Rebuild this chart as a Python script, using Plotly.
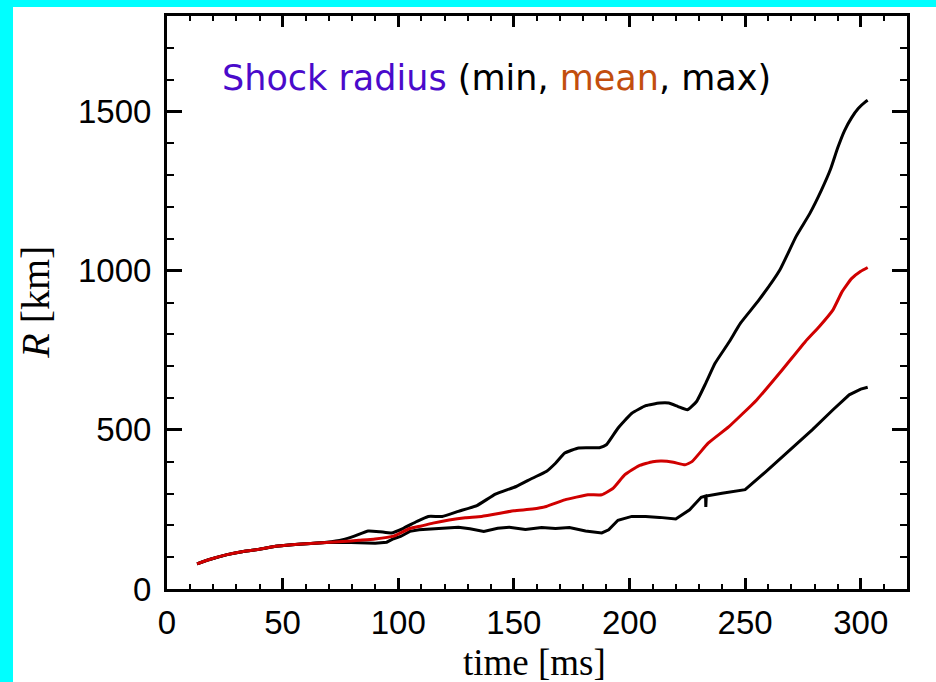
import plotly.graph_objects as go

# ---- data ----
t_max = [13, 18, 26, 33, 40, 47, 54, 62, 69, 76, 81, 87, 92, 97, 102, 108, 113, 119, 126, 134,
         142, 151, 158, 164, 168, 172, 178, 187, 190, 195, 201, 207, 213, 217, 221, 225, 229,
         233, 237, 243, 248, 256, 265, 272, 278, 283, 287, 290, 293, 296, 299, 302, 303]
r_max = [79, 92, 108, 118, 125, 134, 139, 143, 147, 155, 166, 182, 180, 176, 190, 212, 228, 228, 244, 262,
         298, 322, 348, 369, 395, 427, 443, 444, 453, 505, 552, 576, 584, 584, 573, 563, 589,
         647, 709, 775, 835, 908, 1002, 1107, 1180, 1253, 1320, 1385, 1440, 1480, 1510, 1530, 1535]

t_mean = [13, 18, 26, 33, 40, 47, 54, 62, 69, 76, 83, 90, 98, 105, 110, 115, 122, 129, 136, 144,
          150, 158, 164, 172, 182, 188, 193, 198, 204, 210, 214, 219, 224, 227, 234, 243, 255,
          266, 276, 282, 288, 292, 296, 300, 303]
r_mean = [79, 92, 108, 118, 125, 134, 139, 143, 146, 149, 153, 157, 166, 190, 198, 207, 217, 224, 228, 238,
          246, 251, 259, 280, 296, 296, 317, 359, 387, 400, 402, 398, 390, 400, 458, 510, 594,
          688, 777, 824, 877, 935, 975, 998, 1010]

t_min = [13, 18, 26, 33, 40, 47, 54, 62, 69, 76, 83, 90, 95, 98, 101, 105, 109, 119, 126, 131,
         137, 143, 148, 155, 162, 168, 174, 181, 188, 191, 195, 201, 207, 213, 220, 226, 231,
         232.9, 233.0, 233.2, 240, 250, 259, 268, 279, 288, 295, 300, 303]
r_min = [79, 92, 108, 118, 125, 134, 139, 143, 146, 147, 146, 144, 147, 158, 165, 181, 186, 192, 194, 189,
         181, 191, 194, 187, 193, 190, 193, 182, 176, 186, 216, 228, 228, 225, 220, 249, 288,
         292, 258, 292, 301, 312, 369, 427, 500, 563, 610, 628, 634]

x_ticks = [0, 50, 100, 150, 200, 250, 300]
y_ticks = [0, 500, 1000, 1500]

fig = go.Figure()
fig.add_trace(go.Scatter(x=t_min, y=r_min, mode="lines", line=dict(color="black", width=3), name="min"))
fig.add_trace(go.Scatter(x=t_max, y=r_max, mode="lines",
                         line=dict(color="black", width=3, shape="spline", smoothing=0.4), name="max"))
fig.add_trace(go.Scatter(x=t_mean, y=r_mean, mode="lines",
                         line=dict(color="#d00000", width=3, shape="spline", smoothing=0.4), name="mean"))

axis_common = dict(
    showline=True, linecolor="black", linewidth=3, mirror="allticks",
    ticks="inside", tickcolor="black", tickwidth=2.5,
    showgrid=False, zeroline=False,
    tickfont=dict(family="Liberation Sans, Arial, sans-serif", size=33, color="black"),
)

fig.update_xaxes(range=[0, 320], tickvals=x_ticks, ticktext=[str(v) for v in x_ticks], ticklen=11,
                 minor=dict(dtick=10, tick0=0, ticklen=5, tickwidth=2, ticks="inside", tickcolor="black"),
                 ticklabelstandoff=2, **axis_common)
fig.update_yaxes(range=[0, 1800], tickvals=y_ticks, ticktext=[str(v) for v in y_ticks], ticklen=15,
                 minor=dict(dtick=100, tick0=0, ticklen=7, tickwidth=2, ticks="inside", tickcolor="black"),
                 ticklabelstandoff=6, **axis_common)

fig.update_layout(
    width=936, height=682,
    margin=dict(l=167, r=29, t=16, b=93),
    paper_bgcolor="#00ffff", plot_bgcolor="white",
    showlegend=False,
    shapes=[dict(type="rect", xref="paper", yref="paper", x0=-0.2081, x1=1.05, y0=-0.2, y1=1.0157,
                 fillcolor="white", line=dict(width=0), layer="below")],
    annotations=[
        dict(text="<span style='color:#4a0acb'>Shock radius</span> (min, <span style='color:#c24e0e'>mean</span>, max)",
             xref="paper", yref="paper", x=0.072, y=0.892, xanchor="left", yanchor="middle",
             showarrow=False, font=dict(family="DejaVu Sans", size=35, color="black")),
        dict(text="time [ms]", xref="paper", yref="paper", x=0.497, y=-0.128, xanchor="center", yanchor="middle",
             showarrow=False, font=dict(family="Liberation Serif, Times New Roman, serif", size=37, color="black")),
        dict(text="<i>R</i> [km]", xref="paper", yref="paper", x=-0.178, y=0.5, xanchor="center", yanchor="middle",
             textangle=-90, showarrow=False,
             font=dict(family="Liberation Serif, Times New Roman, serif", size=40, color="black")),
    ],
)

fig.write_html("out.html", config={"displayModeBar": False},
               post_script="document.body.style.margin='0px';document.body.style.backgroundColor='#00ffff';")
